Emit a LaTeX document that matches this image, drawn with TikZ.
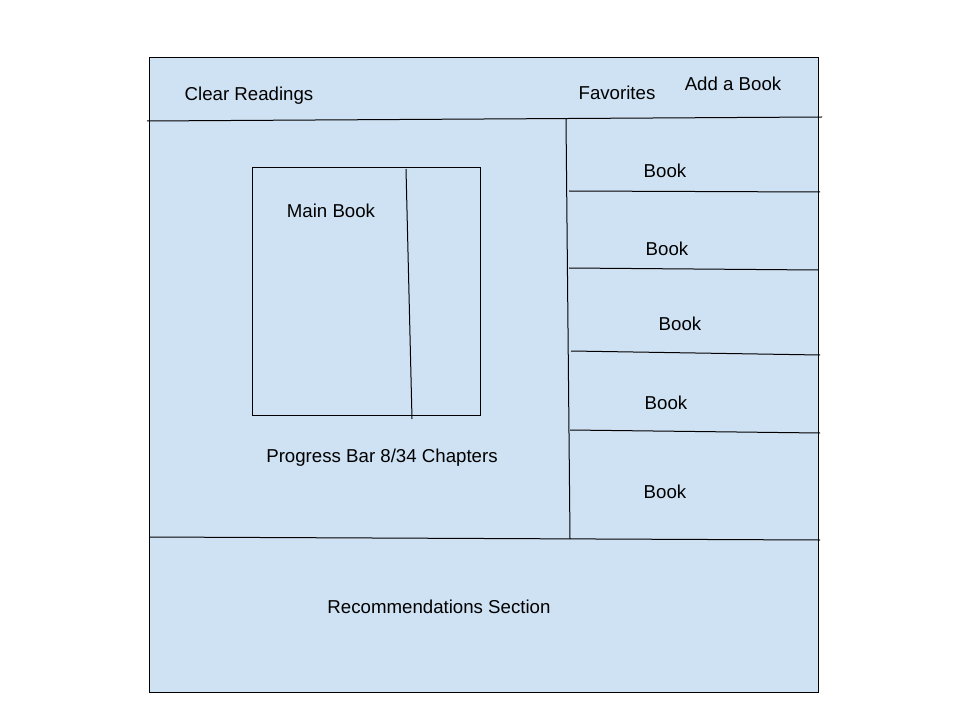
\documentclass[tikz,border=0pt]{standalone}
\usepackage{fontspec}
\setmainfont{Liberation Sans}
\definecolor{panelblue}{HTML}{CFE2F3}
\tikzset{
  frame/.style={draw=black, line width=0.75pt},
  label/.style={anchor=base, inner sep=0pt, font=\fontsize{14}{16}\selectfont}
}
\begin{document}
\begin{tikzpicture}[x=0.75pt, y=-0.75pt]
    \useasboundingbox[fill=white] (0,0) rectangle (960,720);
    \draw[frame, fill=panelblue] (149,58) rectangle (818,692);
    % header and columns
    \draw[frame] (147,121) -- (822,117);
    \draw[frame] (566,119) -- (570,539);
    \draw[frame] (149,537) -- (820,540);
    \draw[frame] (569,191) -- (820,192);
    \draw[frame] (569,268) -- (818,270);
    \draw[frame] (571,351) -- (820,355);
    \draw[frame] (570,430) -- (820,433);
    % main book
    \draw[frame] (252,168) rectangle (480,415);
    \draw[frame] (406,169) -- (412,419);
        \node[label] (clear) at (249,101) {Clear Readings};
        \node[label] (favs) at (617,100) {Favorites};
        \node[label] (addbook) at (733,91) {Add a Book};
        \node[label] (bookA) at (665,178) {Book};
        \node[label] (bookB) at (667,256) {Book};
        \node[label] (bookC) at (680,330) {Book};
        \node[label] (bookD) at (666,409) {Book};
        \node[label] (bookE) at (665,498) {Book};
        \node[label] (mainbook) at (331,218) {Main Book};
        \node[label] (progress) at (382,462) {Progress Bar 8/34 Chapters};
        \node[label] (recs) at (439,613) {Recommendations Section};
\end{tikzpicture}
\end{document}
